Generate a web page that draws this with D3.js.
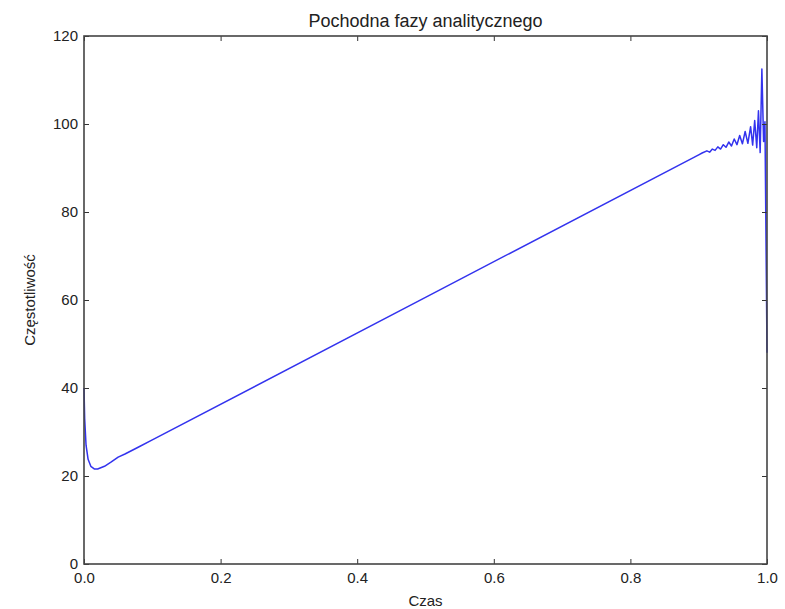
<!DOCTYPE html>
<html>
<head>
<meta charset="utf-8">
<script src="https://cdn.jsdelivr.net/npm/d3@7"></script>
<style>
  body { margin: 0; background: #fff; }
  svg text { font-family: "Liberation Sans", Arial, sans-serif; fill: #222; }
</style>
</head>
<body>
<svg id="chart" width="785" height="609"></svg>
<script>
// time samples (Czas) and derivative of analytic phase (Częstotliwość)
const timeValues = [
    0, 0.001, 0.003, 0.006, 0.010, 0.015, 0.020, 0.030, 0.040, 0.050, 0.060, 0.080, 0.100,
    0.500, 0.900, 0.905,
    0.912, 0.916, 0.920, 0.924, 0.928, 0.932, 0.936, 0.940, 0.944, 0.948,
    0.952, 0.956, 0.960, 0.964, 0.968, 0.972, 0.976, 0.979, 0.982, 0.985,
    0.9875, 0.990, 0.9925, 0.995, 0.997, 1.000
];
const freqValues = [
    40, 33, 27, 23.8, 22.2, 21.6, 21.6, 22.2, 23.2, 24.3, 25.0, 26.6, 28.2,
    60.6, 93.0, 93.4,
    93.9, 93.6, 94.3, 94.0, 94.8, 94.3, 95.3, 94.7, 95.9, 95.0,
    96.6, 95.3, 97.4, 95.5, 98.3, 95.6, 99.4, 95.2, 100.8, 94.6,
    103.0, 93.5, 112.5, 96.0, 100.5, 48.0
];
const xTicks = [0, 0.2, 0.4, 0.6, 0.8, 1.0];
const yTicks = [0, 20, 40, 60, 80, 100, 120];

const titleText = "Pochodna fazy analitycznego";
const xLabel = "Czas";
const yLabel = "Częstotliwość";

// plot area
const svg = d3.select("#chart");
const margin = { top: 36, right: 18, bottom: 45, left: 84 };
const width = 785 - margin.left - margin.right;
const height = 609 - margin.top - margin.bottom;

const chart = svg.append("g")
    .attr("transform", `translate(${margin.left},${margin.top})`);

const xScale = d3.scaleLinear().domain([0, 1]).range([0, width]);
const yScale = d3.scaleLinear().domain([0, 120]).range([height, 0]);

const data = timeValues.map((t, i) => ({ t, v: freqValues[i] }));

// curve
chart.append("path")
    .datum(data)
    .attr("fill", "none")
    .attr("stroke", "#3333ee")
    .attr("stroke-width", 1.5)
    .attr("stroke-linejoin", "round")
    .attr("d", d3.line().x(d => xScale(d.t)).y(d => yScale(d.v)));

// axes, matplotlib classic style: ticks point inward, labels outside
const tickLen = 5;
const bottomAxis = chart.append("g")
    .attr("transform", `translate(0,${height})`)
    .call(d3.axisBottom(xScale).tickValues(xTicks).tickFormat(d3.format(".1f"))
        .tickSizeInner(-tickLen).tickSizeOuter(0).tickPadding(8));
const topAxis = chart.append("g")
    .call(d3.axisTop(xScale).tickValues(xTicks).tickFormat("")
        .tickSizeInner(-tickLen).tickSizeOuter(0));
const leftAxis = chart.append("g")
    .call(d3.axisLeft(yScale).tickValues(yTicks).tickFormat(d3.format("d"))
        .tickSizeInner(-tickLen).tickSizeOuter(0).tickPadding(6));
const rightAxis = chart.append("g")
    .attr("transform", `translate(${width},0)`)
    .call(d3.axisRight(yScale).tickValues(yTicks).tickFormat("")
        .tickSizeInner(-tickLen).tickSizeOuter(0));

[bottomAxis, topAxis, leftAxis, rightAxis].forEach(ax => {
    ax.select(".domain").remove();
    ax.selectAll(".tick line").attr("stroke", "#333").attr("stroke-width", 1);
    ax.selectAll(".tick text").style("font-size", "15px").attr("fill", "#222");
});

// frame
chart.append("rect")
    .attr("width", width)
    .attr("height", height)
    .attr("fill", "none")
    .attr("stroke", "#444")
    .attr("stroke-width", 1.6);

// title and labels
svg.append("text")
    .attr("x", margin.left + width / 2)
    .attr("y", 27)
    .attr("text-anchor", "middle")
    .style("font-size", "18px")
    .text(titleText);

svg.append("text")
    .attr("x", margin.left + width / 2)
    .attr("y", 606)
    .attr("text-anchor", "middle")
    .style("font-size", "15px")
    .text(xLabel);

svg.append("text")
    .attr("transform", `translate(35,${margin.top + height / 2}) rotate(-90)`)
    .attr("text-anchor", "middle")
    .style("font-size", "15px")
    .text(yLabel);
</script>
</body>
</html>
